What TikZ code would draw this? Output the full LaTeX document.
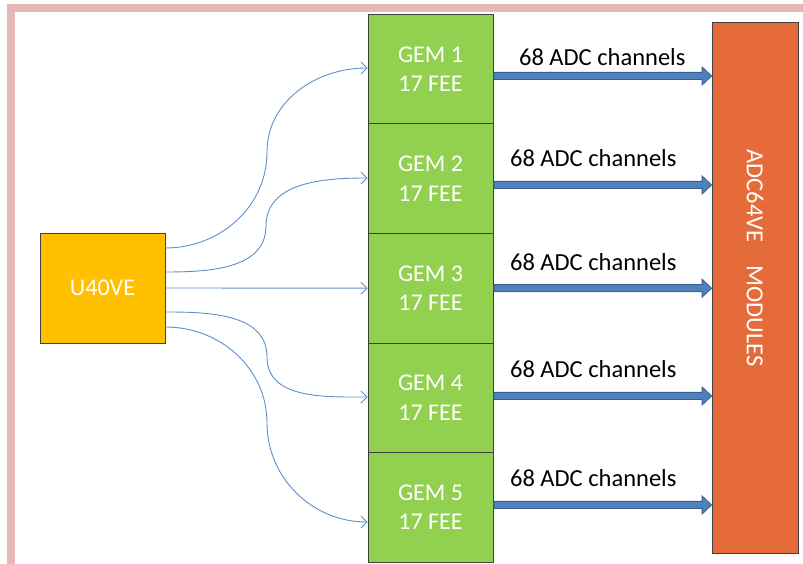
\documentclass[tikz,border=0pt]{standalone}
\usepackage{fontspec}
\setmainfont{Carlito}
\usetikzlibrary{arrows.meta,calc}
\definecolor{gemgreen}{HTML}{92D050}
\definecolor{uorange}{HTML}{FFC000}
\definecolor{adcorange}{HTML}{E56B3A}
\definecolor{framepink}{HTML}{E6B9B8}
\definecolor{linkblue}{HTML}{5F8ECB}
\definecolor{arrblue}{HTML}{4F81BD}
\definecolor{arredge}{HTML}{385D8A}
\begin{document}
\begin{tikzpicture}[x=1pt,y=1pt,
  box/.style={draw=black!75, line width=0.8pt, minimum width=125pt, minimum height=109.6pt,
    inner sep=0pt, text=white, align=center, font=\fontsize{24}{29.5}\selectfont},
  gembox/.style={box, fill=gemgreen},
  lbl/.style={font=\fontsize{24.5}{29}\selectfont, anchor=base west, inner sep=0pt},
  link/.style={draw=linkblue, line width=0.9pt, -{Straight Barb[length=6pt,width=12pt]}},
  fat/.style={fill=arrblue, draw=arredge, line width=0.8pt}]
\useasboundingbox (0,0) rectangle (803,564);
\draw[framepink, line width=8pt] (11,-20) -- (11,555.5) -- (830,555.5);

% GEM boxes
\node[gembox] (g1) at (430.5,495.0) {GEM 1\\17 FEE};
\node[gembox] (g2) at (430.5,385.4) {GEM 2\\17 FEE};
\node[gembox] (g3) at (430.5,275.8) {GEM 3\\17 FEE};
\node[gembox] (g4) at (430.5,166.2) {GEM 4\\17 FEE};
\node[gembox] (g5) at (430.5,56.6) {GEM 5\\17 FEE};

% U40VE
\node[box, fill=uorange, minimum height=110pt] (u) at (102.5,276) {U40VE};

% ADC box
\node[box, fill=adcorange, minimum width=86pt, minimum height=531pt] (adc) at (755,276.5) {};
\node[rotate=-90, text=white, inner sep=0pt, font=\fontsize{24.5}{29}\selectfont] (adct) at (755,306) {ADC64VE\hspace{23pt}MODULES};

% fat arrows
\foreach \i/\o in {1/-7,2/-6.4,3/0,4/1.8,5/2.4}{
  \coordinate (as\i) at ($(g\i.east)+(0.5,\o)$);
  \coordinate (ae\i) at (adc.west |- as\i);
  \filldraw[fat] ($(as\i)+(0,3.6)$) -- ($(ae\i)+(-9.5,3.6)$) -- ($(ae\i)+(-9.5,9)$) -- (ae\i)
    -- ($(ae\i)+(-9.5,-9)$) -- ($(ae\i)+(-9.5,-3.6)$) -- ($(as\i)+(0,-3.6)$) -- cycle;
}

% labels
\node[lbl] (l1) at ($(as1)+(25,10)$) {68 ADC channels};
\node[lbl] (l2) at ($(as2)+(16,18)$) {68 ADC channels};
\node[lbl] (l3) at ($(as3)+(16,18)$) {68 ADC channels};
\node[lbl] (l4) at ($(as4)+(16,18)$) {68 ADC channels};
\node[lbl] (l5) at ($(as5)+(16,18)$) {68 ADC channels};

% thin links
\coordinate (s1) at ($(u.east)+(0,40)$);
\coordinate (s2) at ($(u.east)+(0,16)$);
\coordinate (s3) at ($(u.east)+(0,0)$);
\coordinate (s4) at ($(u.east)+(0,-24)$);
\coordinate (s5) at ($(u.east)+(0,-39)$);
\coordinate (e1) at ($(g1.west)+(0,1)$);
\coordinate (e2) at ($(g2.west)+(0,0.6)$);
\coordinate (e3) at ($(g3.west)+(0,0)$);
\coordinate (e4) at ($(g4.west)+(0,0.8)$);
\coordinate (e5) at ($(g5.west)+(0,-14.6)$);
\coordinate (m1) at (267,412);
\coordinate (m2) at (266,338);
\coordinate (m4) at (267,207);
\coordinate (m5) at (267,141);

\draw[link] (s1) to[out=0,in=-90] (m1) to[out=90,in=180] (e1);
\draw[link] (s2) to[out=0,in=-90] (m2) to[out=90,in=180] (e2);
\draw[link] (s3) -- (e3);
\draw[link] (s4) to[out=0,in=90] (m4) to[out=-90,in=180] (e4);
\draw[link] (s5) to[out=0,in=90] (m5) to[out=-90,in=180] (e5);
\end{tikzpicture}
\end{document}
